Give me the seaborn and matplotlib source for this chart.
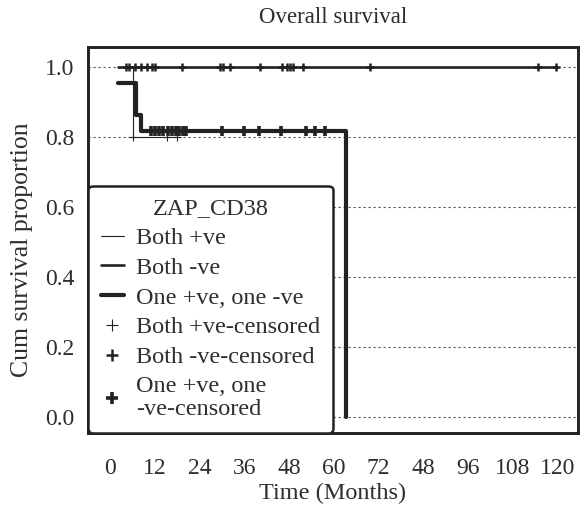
import numpy as np
import pandas as pd
import seaborn as sns
import matplotlib.pyplot as plt
from matplotlib.lines import Line2D

# Kaplan-Meier step vertices (months, cumulative survival)
both_pos_time = [2.0, 6.0, 18.0]
both_pos_surv = [1.0, 0.8, 0.8]
both_neg_time = [2.0, 119.5]
both_neg_surv = [1.0, 1.0]
mixed_time = [2.0, 7.0, 8.2, 63.3]
mixed_surv = [0.955, 0.864, 0.818, 0.0]

# censored observations
both_pos_cens = [6.0, 15.1, 17.8]
both_neg_cens = [4.1, 4.9, 6.5, 8.1, 9.7, 11.3, 12.1, 19.1, 29.3, 30.1, 32.1,
                 40.1, 46.1, 47.3, 48.1, 48.9, 51.8, 69.8, 114.8, 119.5]
mixed_cens = [11.0, 12.0, 13.0, 14.0, 15.5, 16.5, 17.5, 18.5, 19.5, 20.3,
              29.9, 35.8, 39.9, 45.9, 52.6, 54.9, 57.5]

x_ticks = [0, 12, 24, 36, 48, 60, 72, 84, 96, 108, 120]
x_tick_labels = ["0", "12", "24", "36", "48", "60", "72", "48", "96", "108", "120"]
y_ticks = [0.0, 0.2, 0.4, 0.6, 0.8, 1.0]

groups = ["Both +ve", "Both -ve", "One +ve, one -ve"]
widths = {"Both +ve": 0.8, "Both -ve": 1.9, "One +ve, one -ve": 3.0}
ink = "#222222"
text_ink = "#2e2e2e"

sns.set_theme(style="white")
plt.rcParams["font.family"] = ["Liberation Serif", "DejaVu Serif"]

fig = plt.figure(figsize=(5.81, 5.19), dpi=100)
ax = fig.add_axes([0.1515, 0.1657, 0.8433, 0.7437])

# dotted reference lines
for y in y_ticks:
    ax.axhline(y, color="#555555", lw=0.8, ls=(0, (2, 2.5)), zorder=0)

curves = {
    "Both +ve": (both_pos_time, both_pos_surv, both_pos_cens),
    "Both -ve": (both_neg_time, both_neg_surv, both_neg_cens),
    "One +ve, one -ve": (mixed_time, mixed_surv, mixed_cens),
}

marker_sizes = {"Both +ve": 40, "Both -ve": 40, "One +ve, one -ve": 55}
marker_lw = {"Both +ve": 0.8, "Both -ve": 1.8, "One +ve, one -ve": 2.6}

for name, (t, s, cens) in curves.items():
    df = pd.DataFrame({"time": t, "surv": s})
    sns.lineplot(data=df, x="time", y="surv", ax=ax, color=ink,
                 lw=widths[name], drawstyle="steps-post",
                 estimator=None, sort=False, zorder=3)
    # censor marks sit on the survival level at that time
    lvl = [s[max(i for i in range(len(t)) if t[i] <= c)] for c in cens]
    cdf = pd.DataFrame({"time": cens, "surv": lvl})
    sns.scatterplot(data=cdf, x="time", y="surv", ax=ax, marker="+",
                    color=ink, s=marker_sizes[name],
                    linewidth=marker_lw[name], zorder=4)

ax.set_xlim(-6, 125.5)
ax.set_ylim(-0.046, 1.057)
ax.set_xticks(x_ticks)
ax.set_xticklabels(x_tick_labels)
ax.set_yticks(y_ticks)
ax.set_yticklabels([f"{v:.1f}" for v in y_ticks])
ax.tick_params(axis="both", direction="out", length=6, width=1.6,
               color=ink, labelsize=17, labelcolor=text_ink)
ax.tick_params(axis="x", pad=12)
ax.tick_params(axis="y", pad=4)

for sp in ax.spines.values():
    sp.set_color(ink)
    sp.set_linewidth(2.1)

ax.set_xlabel("Time (Months)", fontsize=17.5, color=text_ink, labelpad=3)
ax.set_ylabel("Cum survival proportion", fontsize=18.5, color=text_ink)
ax.yaxis.set_label_coords(-0.112, 0.474)
ax.set_title("Overall survival", fontsize=16.5, color=text_ink, pad=17)

handles = [Line2D([], [], color=ink, lw=widths[g]) for g in groups]
handles += [Line2D([], [], color=ink, lw=0, marker="+",
                   markersize=8 if g != "One +ve, one -ve" else 9,
                   markeredgewidth=marker_lw[g]) for g in groups]
labels = groups + ["Both +ve-censored", "Both -ve-censored",
                   "One +ve, one\n-ve-censored"]
leg = ax.legend(handles, labels, title="ZAP_CD38", loc="lower left",
                bbox_to_anchor=(0, 0), borderaxespad=0, fontsize=17.5,
                title_fontsize=17.5, frameon=True, fancybox=True,
                handlelength=0.95, handletextpad=0.5, labelspacing=0.32,
                borderpad=0.52)
frame = leg.get_frame()
frame.set_edgecolor(ink)
frame.set_linewidth(1.8)
frame.set_alpha(1)
for txt in leg.get_texts():
    txt.set_color(text_ink)
    txt.set_linespacing(1.15)
leg.get_title().set_color(text_ink)

fig.savefig("out.png", dpi=100)
